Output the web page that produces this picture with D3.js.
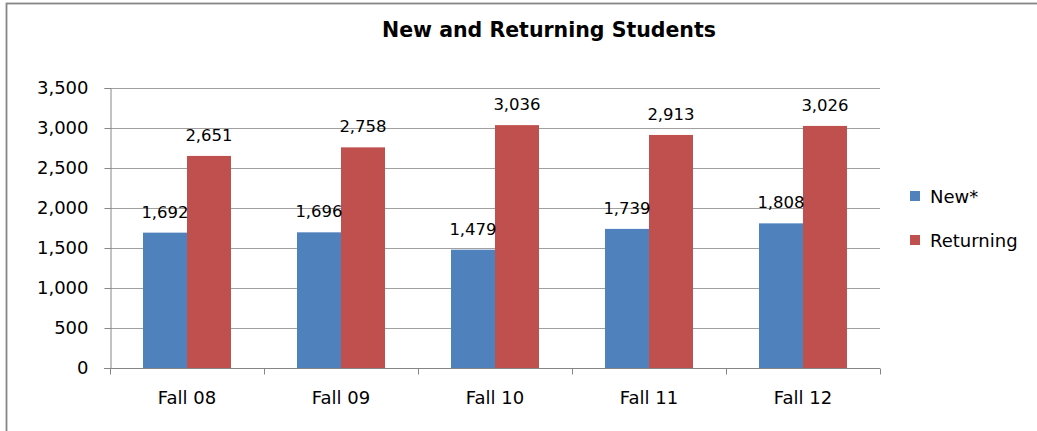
<!DOCTYPE html>
<html lang="en">
<head>
  <meta charset="UTF-8">
  <title>New and Returning Students</title>
  <script src="https://d3js.org/d3.v7.min.js"></script>
  <style>
    body { margin: 0; background: #fff; font-family: "DejaVu Sans", sans-serif; }
    svg { display: block; }
  </style>
</head>
<body>
  <svg width="1037" height="431"></svg>
  <script>
    const terms = ["Fall 08", "Fall 09", "Fall 10", "Fall 11", "Fall 12"];
    const newStudents = [1692, 1696, 1479, 1739, 1808];
    const returning = [2651, 2758, 3036, 2913, 3026];
    const seriesNames = ["New*", "Returning"];
    const yTicks = [0, 500, 1000, 1500, 2000, 2500, 3000, 3500];

    const colors = ["#4f81bd", "#c0504d"];
    const svg = d3.select("svg");

    const plot = { left: 110, right: 880, top: 88, bottom: 368 };

    // outer chart frame (cut off at the right/bottom in the reference)
    svg.append("rect")
      .attr("x", 6.5).attr("y", 3.5)
      .attr("width", 1060).attr("height", 460)
      .attr("fill", "none").attr("stroke", "#868686").attr("stroke-width", 1.8);

    svg.append("text")
      .attr("x", 549).attr("y", 37)
      .attr("text-anchor", "middle")
      .style("font-weight", "bold").style("font-size", "20.5px")
      .text("New and Returning Students");

    const x0 = d3.scaleBand().domain(terms).range([plot.left, plot.right]);
    const x1 = d3.scaleBand().domain([0, 1])
      .range([0, x0.bandwidth()]).paddingOuter(0.75);
    const y = d3.scaleLinear().domain([0, 3500]).range([plot.bottom, plot.top]);

    // gridlines
    svg.append("g").selectAll("line")
      .data(yTicks.filter(d => d > 0))
      .join("line")
      .attr("x1", plot.left).attr("x2", plot.right)
      .attr("y1", d => Math.round(y(d)) + 0.5).attr("y2", d => Math.round(y(d)) + 0.5)
      .attr("stroke", "#a0a0a0");

    // bars
    const data = terms.map((t, i) => ({ term: t, vals: [newStudents[i], returning[i]] }));
    const groups = svg.append("g").selectAll("g")
      .data(data).join("g")
      .attr("transform", d => `translate(${x0(d.term)},0)`);

    groups.selectAll("rect")
      .data(d => d.vals.map((v, k) => ({ v, k })))
      .join("rect")
      .attr("x", d => x1(d.k))
      .attr("width", x1.bandwidth())
      .attr("y", d => y(d.v))
      .attr("height", d => y(0) - y(d.v))
      .attr("fill", d => colors[d.k]);

    groups.selectAll("text")
      .data(d => d.vals.map((v, k) => ({ v, k })))
      .join("text")
      .attr("x", d => x1(d.k) + x1.bandwidth() / 2)
      .attr("y", d => y(d.v) - 15)
      .attr("text-anchor", "middle")
      .style("font-size", "16.5px")
      .text(d => d3.format(",")(d.v));

    // y axis
    const yAxis = svg.append("g")
      .attr("transform", `translate(${plot.left + 0.5},0)`)
      .call(d3.axisLeft(y).tickValues(yTicks).tickSize(6).tickPadding(16).tickFormat(d3.format(",")));
    yAxis.select(".domain").attr("stroke", "#868686");
    yAxis.selectAll(".tick line").attr("stroke", "#868686");
    yAxis.selectAll("text").style("font-size", "18px").style("font-family", "DejaVu Sans").attr("fill", "#000");

    // x axis
    const xAxis = svg.append("g")
      .attr("transform", `translate(0,${plot.bottom + 0.5})`)
      .call(d3.axisBottom(x0).tickSize(0).tickPadding(23));
    xAxis.select(".domain").attr("stroke", "#868686").attr("d", `M${plot.left - 6},0H${plot.right}`);
    xAxis.selectAll("text").style("font-size", "18px").style("font-family", "DejaVu Sans").attr("fill", "#000");
    xAxis.append("g").selectAll("line")
      .data(d3.range(terms.length + 1))
      .join("line")
      .attr("x1", i => Math.round(plot.left + i * x0.step()) + 0.5)
      .attr("x2", i => Math.round(plot.left + i * x0.step()) + 0.5)
      .attr("y1", 0).attr("y2", 6)
      .attr("stroke", "#868686");

    // legend
    const legend = svg.append("g").selectAll("g")
      .data(seriesNames).join("g")
      .attr("transform", (d, i) => `translate(910,${191 + i * 44})`);
    legend.append("rect")
      .attr("width", 10).attr("height", 10)
      .attr("fill", (d, i) => colors[i]);
    legend.append("text")
      .attr("x", 20).attr("y", 12)
      .style("font-size", "18px")
      .text(d => d);
  </script>
</body>
</html>
